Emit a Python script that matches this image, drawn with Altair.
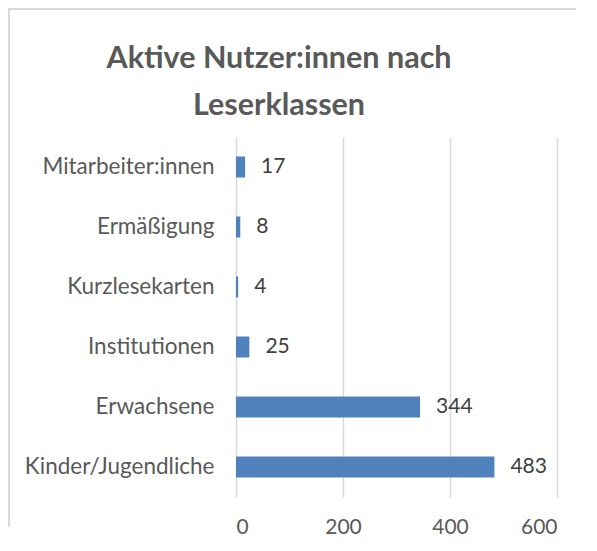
import altair as alt
import pandas as pd

categories = ["Mitarbeiter:innen", "Ermäßigung", "Kurzlesekarten", "Institutionen", "Erwachsene", "Kinder/Jugendliche"]
values = [17, 8, 4, 25, 344, 483]
x_ticks = [0, 200, 400, 600]
title_lines = ["Aktive Nutzer:innen nach", "Leserklassen"]

df = pd.DataFrame({"cat": categories, "val": values})

FONT = "Lato"
PW, PH = 321, 360

y_enc = alt.Y("cat:N", sort=categories, title=None,
              scale=alt.Scale(paddingInner=0.65, paddingOuter=0.325),
              axis=alt.Axis(domain=False, ticks=False, labelPadding=22, labelFontSize=22.5,
                            labelLimit=400,
                            labelColor="#595959", labelFont=FONT, grid=False))
x_enc = alt.X("val:Q", title=None,
              scale=alt.Scale(domain=[0, 600], nice=False),
              axis=alt.Axis(values=x_ticks, domain=False, ticks=False, grid=True,
                            gridColor="#d9d9d9", gridWidth=1.5, labelPadding=19,
                            labelFontSize=21, labelColor="#595959", labelFont=FONT))

base = alt.Chart(df)
bars = base.mark_bar(color="#4f81bd").encode(x=x_enc, y=y_enc)
labels = base.mark_text(align="left", baseline="middle", dx=16, fontSize=21,
                        color="#404040", font=FONT).encode(
    x="val:Q", y=alt.Y("cat:N", sort=categories), text="val:Q")

one = pd.DataFrame({"a": [0]})
border_top = alt.Chart(one).mark_rect(color="#d9d9d9", strokeWidth=0).encode(
    x=alt.value(-228), x2=alt.value(340), y=alt.value(-129), y2=alt.value(-127))
border_left = alt.Chart(one).mark_rect(color="#d9d9d9", strokeWidth=0).encode(
    x=alt.value(-228), x2=alt.value(-226), y=alt.value(-129), y2=alt.value(390))

title = alt.Chart(one).mark_text(
    text=title_lines, align="center", baseline="alphabetic", fontSize=30.5,
    fontWeight="bold", color="#595959", font=FONT, lineHeight=47
).encode(x=alt.value(43), y=alt.value(-69))

chart = alt.layer(border_top, border_left, title, bars, labels).properties(
    width=PW, height=PH,
    padding={"left": 228, "top": 129, "right": 32, "bottom": 40},
    autosize=alt.AutoSizeParams(type="none"),
).configure_view(stroke=None)

chart.save("out.html", embed_options={"renderer": "svg", "actions": False})
